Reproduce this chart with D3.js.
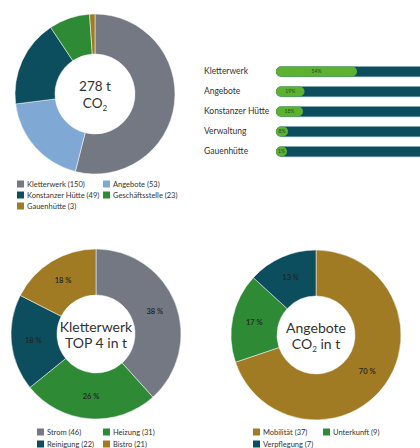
<!DOCTYPE html>
<html><head><meta charset="utf-8">
<script src="https://cdn.jsdelivr.net/npm/d3@7"></script>
<style>
html,body{margin:0;padding:0;background:#fff;}
svg{display:block;font-family:Lato,"Open Sans",sans-serif;}
</style></head>
<body>
<svg id="c" width="420" height="448"></svg>
<script>
// ---- data ----
const totalCats = ["Kletterwerk","Angebote","Konstanzer Hütte","Geschäftsstelle","Gauenhütte"];
const totalVals = [150,53,49,23,3];
const totalColors = ["#737882","#7fa8d4","#0c4e5e","#2f8a36","#a07b24"];

const barCats = ["Kletterwerk","Angebote","Konstanzer Hütte","Verwaltung","Gauenhütte"];
const barPct = [54,19,18,8,1];

const kwCats = ["Strom","Heizung","Reinigung","Bistro"];
const kwVals = [46,31,22,21];
const kwColors = ["#737882","#2f8a36","#0c4e5e","#a07b24"];

const agCats = ["Mobilität","Unterkunft","Verpflegung"];
const agVals = [37,9,7];
const agColors = ["#a07b24","#2f8a36","#0c4e5e"];

const svg = d3.select("#c");
const textCol = "#333";

function donut(cx, cy, rO, rI, cats, vals, colors, showLabels){
  const g = svg.append("g").attr("transform",`translate(${cx},${cy})`);
  const total = d3.sum(vals);
  const pie = d3.pie().sort(null).value(d=>d.v);
  const data = pie(cats.map((c,i)=>({c, v:vals[i], col:colors[i]})));
  const arc = d3.arc().innerRadius(rI).outerRadius(rO);
  g.selectAll("path").data(data).join("path")
    .attr("d",arc).attr("fill",d=>d.data.col)
    .attr("stroke","#fff").attr("stroke-width",0.5);
  if(showLabels){
    const lab = d3.arc().innerRadius((rI+rO)/2+1).outerRadius((rI+rO)/2+1);
    g.selectAll("text.pl").data(data).join("text").attr("class","pl")
      .attr("transform",d=>`translate(${lab.centroid(d)})`)
      .attr("text-anchor","middle").attr("dy","0.35em")
      .attr("font-size",7.5).attr("font-weight",600).attr("fill","#222")
      .text(d=>Math.round(d.data.v/total*100)+" %");
  }
  return g;
}

function legend(x0, y0, colX, rowH, cats, vals, colors, perRow){
  cats.forEach((c,i)=>{
    const col = i%perRow, row = Math.floor(i/perRow);
    const g = svg.append("g").attr("transform",`translate(${x0+colX[col]},${y0+row*rowH})`);
    g.append("rect").attr("x",0).attr("y",-3.5).attr("width",7).attr("height",7).attr("fill",colors[i]);
    g.append("text").attr("x",10).attr("y",0).attr("dy","0.35em")
      .attr("font-size",7.5).attr("fill",textCol).text(`${c} (${vals[i]})`);
  });
}

// ---- top donut ----
const g1 = donut(95,94,80,40,totalCats,totalVals,totalColors,false);
g1.append("text").attr("text-anchor","middle").attr("y",-3).attr("font-size",13.5).attr("fill",textCol).text("278 t");
const co = g1.append("text").attr("text-anchor","middle").attr("y",14).attr("font-size",13.5).attr("fill",textCol);
co.append("tspan").text("CO");
co.append("tspan").attr("font-size",8).attr("dy",3).text("2");
legend(17,184,[0,86],11,totalCats,totalVals,totalColors,2);

// ---- bar chart ----
const bx = 276, bw = 150, bh = 10;
const xs = d3.scaleLinear().domain([0,100]).range([0,bw]);
const ys = d3.scaleBand().domain(barCats).range([61.5,161.5]).paddingInner(0);
barCats.forEach((c,i)=>{
  const yc = ys(c)+ys.bandwidth()/2;
  svg.append("text").attr("x",204).attr("y",yc).attr("dy","0.35em")
    .attr("font-size",8.5).attr("fill",textCol).text(c);
  svg.append("rect").attr("x",bx).attr("y",yc-bh/2+0.8).attr("width",bw).attr("height",bh)
    .attr("rx",bh/2).attr("fill","#a9c2cc");
  svg.append("rect").attr("x",bx).attr("y",yc-bh/2).attr("width",bw).attr("height",bh)
    .attr("rx",bh/2).attr("fill","#0c4e5e");
  const gw = Math.max(xs(barPct[i]), 11);
  svg.append("rect").attr("x",bx).attr("y",yc-bh/2).attr("width",gw).attr("height",bh)
    .attr("rx",bh/2).attr("fill","#5db130");
  svg.append("text").attr("x",bx+gw/2).attr("y",yc).attr("dy","0.35em").attr("text-anchor","middle")
    .attr("font-size",5).attr("fill","#1d4a1a").text(barPct[i]+"%");
});

// ---- bottom left donut ----
const g2 = donut(96,334,85,39,kwCats,kwVals,kwColors,true);
g2.append("text").attr("text-anchor","middle").attr("y",-2).attr("font-size",14).attr("fill",textCol).text("Kletterwerk");
g2.append("text").attr("text-anchor","middle").attr("y",14).attr("font-size",14).attr("fill",textCol).text("TOP 4 in t");
legend(37,432,[0,66],12,kwCats,kwVals,kwColors,2);

// ---- bottom right donut ----
const g3 = donut(316,335,85,39,agCats,agVals,agColors,true);
g3.append("text").attr("text-anchor","middle").attr("y",-2).attr("font-size",14).attr("fill",textCol).text("Angebote");
const c3 = g3.append("text").attr("text-anchor","middle").attr("y",14).attr("font-size",14).attr("fill",textCol);
c3.append("tspan").text("CO");
c3.append("tspan").attr("font-size",8).attr("dy",3).text("2");
c3.append("tspan").attr("dy",-3).text(" in t");
legend(253,432,[0,70],12,agCats,agVals,agColors,2);
</script>
</body></html>
